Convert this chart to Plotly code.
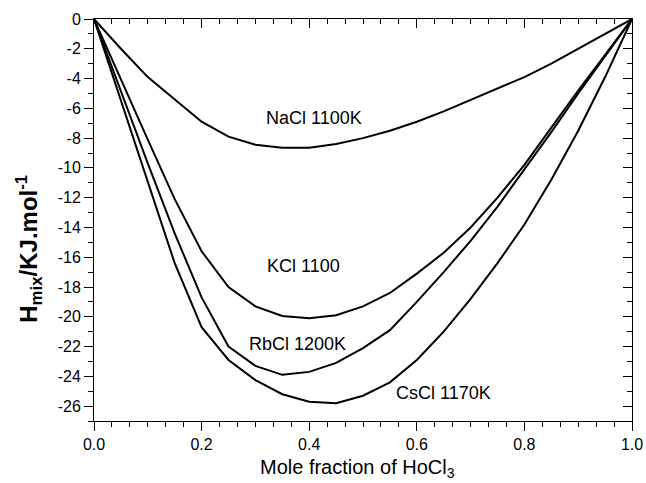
import plotly.graph_objects as go

x_frac = [0.0, 0.05, 0.1, 0.15, 0.2, 0.25, 0.3, 0.35, 0.4, 0.45, 0.5,
          0.55, 0.6, 0.65, 0.7, 0.75, 0.8, 0.85, 0.9, 0.95, 1.0]

h_nacl = [0.0, -2.0, -3.9, -5.4, -6.9, -7.9, -8.45, -8.65, -8.65, -8.4, -8.0,
          -7.5, -6.9, -6.2, -5.45, -4.7, -3.9, -3.0, -2.0, -1.05, 0.0]
h_kcl = [0.0, -4.1, -8.1, -12.1, -15.6, -18.0, -19.3, -19.95, -20.1, -19.9, -19.3,
         -18.4, -17.1, -15.7, -14.0, -12.0, -9.8, -7.3, -4.8, -2.4, 0.0]
h_rbcl = [0.0, -4.9, -9.7, -14.4, -18.7, -22.0, -23.3, -23.9, -23.7, -23.1, -22.1,
          -20.9, -19.0, -17.0, -14.9, -12.6, -10.1, -7.6, -5.0, -2.5, 0.0]
h_cscl = [0.0, -5.5, -10.9, -16.4, -20.7, -22.9, -24.25, -25.2, -25.7, -25.8, -25.3,
          -24.4, -22.9, -21.0, -18.8, -16.4, -13.8, -10.8, -7.5, -3.9, 0.0]

series = [h_nacl, h_kcl, h_rbcl, h_cscl]

label_text = ["NaCl 1100K", "KCl 1100", "RbCl 1200K", "CsCl 1170K"]
label_x = [0.408, 0.39, 0.378, 0.65]
label_y = [-6.68, -16.6, -21.8, -25.1]

x_title = "Mole fraction of HoCl<sub>3</sub>"
y_title = "<b>H<sub>mix</sub>/KJ.mol<sup>-1</sup></b>"

x_ticks = [0.0, 0.2, 0.4, 0.6, 0.8, 1.0]
x_ticktext = ["0.0", "0.2", "0.4", "0.6", "0.8", "1.0"]
y_ticks = list(range(0, -27, -2))
y_ticktext = [str(v) for v in y_ticks]

FONT = "Liberation Sans, Arial, Helvetica"

fig = go.Figure()
for ys in series:
    fig.add_trace(go.Scatter(x=x_frac, y=ys, mode="lines",
                             line=dict(color="black", width=2),
                             showlegend=False, hoverinfo="skip"))
# invisible helper trace so the mirrored (top/right) axes are drawn
fig.add_trace(go.Scatter(x=[x_frac[0]], y=[h_nacl[0]], xaxis="x2", yaxis="y2",
                         mode="markers", marker=dict(opacity=0),
                         showlegend=False, hoverinfo="skip"))

for t, xx, yy in zip(label_text, label_x, label_y):
    fig.add_annotation(x=xx, y=yy, text=t, showarrow=False,
                       font=dict(family=FONT, size=18, color="black"))

# axis titles
fig.add_annotation(x=0.49, xref="paper", y=-0.118, yref="paper",
                   xanchor="center", yanchor="middle", text=x_title,
                   showarrow=False, font=dict(family=FONT, size=20, color="black"))
fig.add_annotation(x=-0.12, xref="paper", y=-15.4, yref="y",
                   xanchor="center", yanchor="middle", text=y_title, textangle=-90,
                   showarrow=False, font=dict(family=FONT, size=24, color="black"))

tick_font = dict(family=FONT, size=16, color="black")

fig.update_layout(
    width=646, height=483,
    margin=dict(l=94, r=14, t=19, b=62),
    paper_bgcolor="white", plot_bgcolor="white",
    font=tick_font,
    xaxis=dict(range=[0, 1], tickvals=x_ticks, ticktext=x_ticktext,
               ticks="outside", ticklen=9, tickwidth=1, tickcolor="black",
               showline=True, linecolor="black", linewidth=1, mirror=False,
               showgrid=False, zeroline=False, automargin=False,
               minor=dict(ticks="outside", ticklen=5, tickwidth=1, tickcolor="black",
                          tick0=0, dtick=0.2 / 6, showgrid=False),
               tickfont=tick_font),
    yaxis=dict(range=[-27, 0], tickvals=y_ticks, ticktext=y_ticktext,
               ticks="outside", ticklen=9, tickwidth=1, tickcolor="black",
               showline=True, linecolor="black", linewidth=1, mirror=False,
               showgrid=False, zeroline=False, automargin=False,
               minor=dict(ticks="outside", ticklen=5, tickwidth=1, tickcolor="black",
                          tick0=0, dtick=1, showgrid=False),
               tickfont=tick_font),
    xaxis2=dict(range=[0, 1], overlaying="x", side="top", anchor="y",
                tickvals=x_ticks, showticklabels=False, automargin=False,
                ticks="inside", ticklen=9, tickwidth=1, tickcolor="black",
                showgrid=False, zeroline=False,
                showline=True, linecolor="black", linewidth=1,
                minor=dict(ticks="inside", ticklen=5, tickwidth=1, tickcolor="black",
                           tick0=0, dtick=0.2 / 6, showgrid=False)),
    yaxis2=dict(range=[-27, 0], overlaying="y", side="right", anchor="x",
                tickvals=y_ticks, showticklabels=False, automargin=False,
                ticks="inside", ticklen=9, tickwidth=1, tickcolor="black",
                showgrid=False, zeroline=False,
                showline=True, linecolor="black", linewidth=1,
                minor=dict(ticks="inside", ticklen=5, tickwidth=1, tickcolor="black",
                           tick0=0, dtick=1, showgrid=False)),
)

fig.write_html(
    "out.html",
    config={"displayModeBar": False, "staticPlot": True},
    post_script="document.body.style.margin='0';document.body.style.overflow='hidden';",
)
